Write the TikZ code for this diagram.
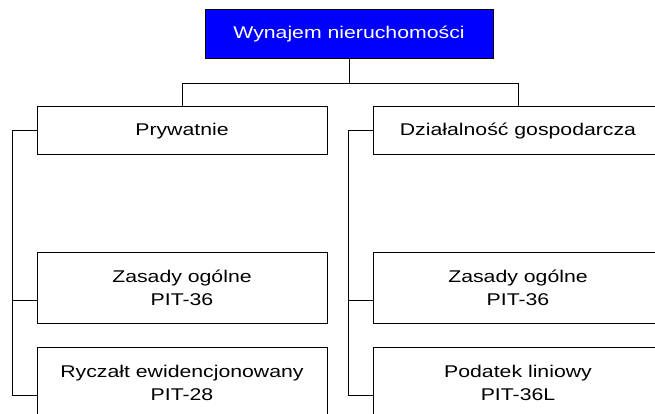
\documentclass[tikz,border=0pt]{standalone}
\usepackage{fontspec}
\setmainfont{Liberation Sans}[FakeStretch=1.25]
\usepackage{tikz}
\usetikzlibrary{positioning, calc}

\tikzset{
    box/.style={draw=black, line width=1pt, fill=white, rectangle, inner sep=0pt,
        minimum width=290pt, align=center, font=\fontsize{17pt}{23pt}\selectfont},
    headbox/.style={box, fill=blue, text=white, minimum width=288pt, minimum height=49pt},
    link/.style={draw=black, line width=1pt}
}

\begin{document}
\begin{tikzpicture}[x=1pt, y=-1pt]
            % Frame of the page
            \useasboundingbox (0,0) rectangle (655,414);
            \fill[white] (0,0) rectangle (655,414);
            \clip (0,0) rectangle (655,414);

            % Top box
            \node[headbox] (top) at (349,34.5) {Wynajem nieruchomości};

            % Second level
            \node[box, minimum height=48pt] (pryw) at (182,131) {Prywatnie};
            \node[box, minimum height=48pt] (dzial) at (518,131) {Działalność gospodarcza};

            % Forms of taxation
            \node[box, minimum height=71pt] (zas1) at (182,287.5) {Zasady ogólne\\PIT-36};
            \node[box, minimum height=71pt] (rycz) at (182,382.5) {Ryczałt ewidencjonowany\\PIT-28};
            \node[box, minimum height=71pt] (zas2) at (518,287.5) {Zasady ogólne\\PIT-36};
            \node[box, minimum height=71pt] (pod) at (518,382.5) {Podatek liniowy\\PIT-36L};

            % Connectors from the top
            \draw[link] (top.south) -- ++(0,24) coordinate (bus);
            \draw[link] (pryw.north) |- (bus) -| (dzial.north);

            % Side buses
            \coordinate (lb1) at ([yshift=-12.5pt]zas1.west);
            \coordinate (lb2) at ([yshift=-12.5pt]rycz.west);
            \coordinate (rb1) at ([yshift=-12.5pt]zas2.west);
            \coordinate (rb2) at ([yshift=-12.5pt]pod.west);
            \draw[link] (pryw.west) -- ++(-24,0) |- (lb1);
            \draw[link] (pryw.west) ++(-24,0) |- (lb2);
            \draw[link] (dzial.west) -- ++(-24,0) |- (rb1);
            \draw[link] (dzial.west) ++(-24,0) |- (rb2);
        \end{tikzpicture}
\end{document}
